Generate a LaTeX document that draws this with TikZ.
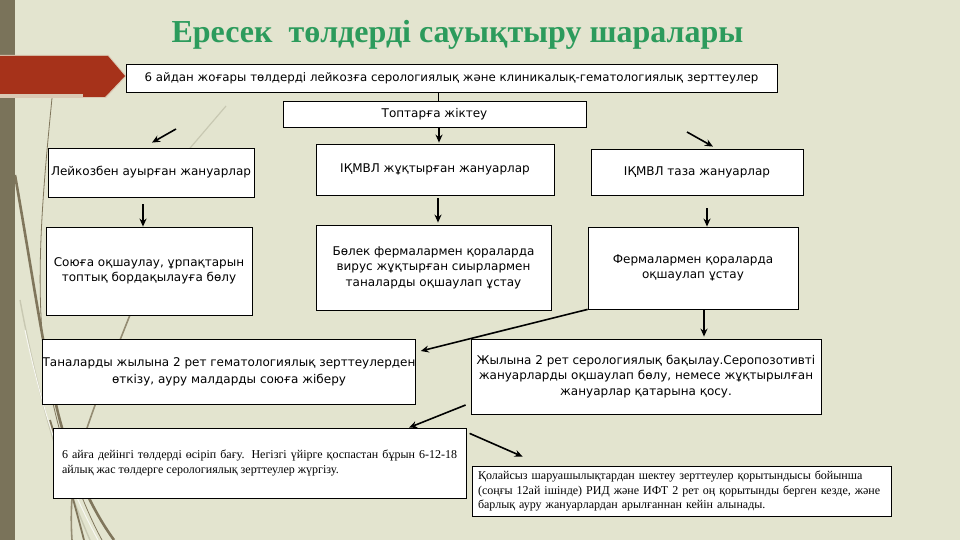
\documentclass[tikz,border=0pt]{standalone}
\usepackage{fontspec}
\setmainfont{Liberation Serif}
\newfontfamily\gfont{DejaVu Sans}
\newfontfamily\tfont{Liberation Serif}
\usetikzlibrary{arrows.meta,calc}
\definecolor{bgc}{RGB}{227,228,207}
\definecolor{bandc}{RGB}{122,115,90}
\definecolor{redc}{RGB}{166,50,26}
\definecolor{titleg}{RGB}{44,155,92}
\definecolor{grassd}{RGB}{128,118,92}
\definecolor{grassl}{RGB}{200,200,178}
\tikzset{
  box/.style={draw=black, line width=0.8pt, fill=white, inner sep=0pt, align=center,
    font=\gfont\fontsize{12}{15.5}\selectfont},
  sbox/.style={draw=black, line width=0.8pt, fill=white, inner sep=0pt,
    font=\tfont\fontsize{12}{14.5}\selectfont},
  arr/.style={-{Stealth[length=8pt,width=7pt]}, line width=1.6pt, black},
  conn/.style={line width=0.8pt, black},
}
\begin{document}
\begin{tikzpicture}[x=1pt,y=-1pt]
\fill[bgc] (0,0) rectangle (960,540);
\useasboundingbox (0,0) rectangle (960,540);
% decorative grass
\draw[grassl, line width=1.2pt] (226,106) -- (150,195);
\draw[grassd, line width=0.8pt] (52,98) .. controls (44,180) and (34,280) .. (45,360) .. controls (55,430) and (80,500) .. (102,540);
\draw[grassd, line width=2.6pt] (15,175) .. controls (30,260) and (40,330) .. (55,400) .. controls (68,460) and (92,510) .. (114,540);
\draw[grassd!80!bgc, line width=1.6pt] (132,310) .. controls (112,360) and (92,410) .. (80,450) .. controls (72,480) and (70,510) .. (72,540);
\draw[grassl, line width=1.4pt] (20,300) .. controls (35,380) and (55,460) .. (90,540);
\draw[white!70!bgc, line width=1pt] (25,330) .. controls (40,400) and (60,470) .. (98,540);
\draw[grassd, line width=1.8pt] (50,420) .. controls (65,470) and (75,505) .. (84,540);
% left band
\fill[bandc] (0,0) rectangle (15,540);
% red arrow shape
\fill[redc!15!bgc] (0,55) -- (108.5,55) -- (126.5,76) -- (106,98) -- (0,98) -- cycle;
\fill[redc] (0,56) -- (108,56) -- (125,76) -- (105,97) -- (83,97) -- (83,94) -- (0,94) -- cycle;
% title
\node[font=\tfont\bfseries\fontsize{32}{38}\selectfont, text=titleg, anchor=base, inner sep=0pt] (title) at (457.5,43) {Ересек\ \ төлдерді сауықтыру шаралары};
% boxes
\node[box, minimum width=651pt, minimum height=28pt, font=\gfont\fontsize{11.8}{15}\selectfont] (b1) at (451.5,78) {6 айдан жоғары төлдерді лейкозға серологиялық және клиникалық-гематологиялық зерттеулер};
\node[box, minimum width=303pt, minimum height=26pt] (b2) at (434.5,114) {Топтарға жіктеу};
\node[box, minimum width=206pt, minimum height=49pt] (l2) at (151,172.5) {Лейкозбен ауырған жануарлар};
\node[box, minimum width=238pt, minimum height=51pt] (m2) at (435,169.5) {ІҚМВЛ жұқтырған жануарлар};
\node[box, minimum width=212pt, minimum height=46pt] (r2) at (697,172) {ІҚМВЛ таза жануарлар};
\node[box, minimum width=206pt, minimum height=88pt] (l3) at (149,271) {Союға оқшаулау, ұрпақтарын\\топтық бордақылауға бөлу};
\node[box, minimum width=235pt, minimum height=85pt] (m3) at (433.5,267.5) {Бөлек фермалармен қораларда\\вирус жұқтырған сиырлармен\\таналарды оқшаулап ұстау};
\node[box, minimum width=210pt, minimum height=82pt] (r3) at (693,268) {Фермалармен қораларда\\оқшаулап ұстау};
\node[box, minimum width=368pt, minimum height=65pt, font=\gfont\fontsize{12}{17}\selectfont] (l4) at (229,371.5) {Таналарды жылына 2 рет гематологиялық зерттеулерден\\өткізу, ауру малдарды союға жіберу};
\node[box, minimum width=350pt, minimum height=75pt] (r4) at (646,376.5) {Жылына 2 рет серологиялық бақылау.Серопозотивті\\жануарларды оқшаулап бөлу, немесе жұқтырылған\\жануарлар қатарына қосу.};
\node[sbox, minimum width=413pt, minimum height=70pt, text width=395pt, align=justify] (l5) at (259.5,463) {6 айға дейінгі төлдерді өсіріп бағу. Негізгі үйірге қоспастан бұрын 6-12-18\linebreak айлық жас төлдерге серологиялық зерттеулер жүргізу.};
\node[sbox, minimum width=419pt, minimum height=50pt, text width=407pt, align=left] (r5) at (681.5,491) {Қолайсыз шаруашылықтардан шектеу зерттеулер қорытындысы бойынша\\(соңғы 12ай ішінде) РИД және ИФТ 2 рет оң қорытынды берген кезде, және\\барлық ауру жануарлардан арылғаннан кейін алынады.};
% connectors
\draw[conn] ([xshift=-13.5pt]b1.south) -- ([xshift=3.5pt]b2.north);
\draw[arr] ([xshift=4.5pt]b2.south) -- ([xshift=4pt,yshift=1pt]m2.north);
\coordinate (sL) at (176,129);
\coordinate (sR) at (687,132);
\draw[arr] (sL) -- ([xshift=1pt,yshift=5pt]l2.north);
\draw[arr] (sR) -- ([xshift=16pt,yshift=2pt]r2.north);
\draw[arr] ([xshift=-8pt,yshift=-7pt]l2.south) -- ([xshift=-6pt]l3.north);
\draw[arr] ([xshift=3pt,yshift=-3pt]m2.south) -- ([xshift=4.5pt,yshift=2pt]m3.north);
\draw[arr] ([xshift=10pt,yshift=-13pt]r2.south) -- ([xshift=14pt]r3.north);
\draw[arr] ([xshift=11pt]r3.south) -- ([xshift=58pt,yshift=2pt]r4.north);
\draw[arr] (r3.south west) -- ([xshift=5pt,yshift=20.5pt]l4.east);
\draw[arr] ([xshift=-5pt,yshift=-28.5pt]r4.west) -- ([xshift=149.5pt]l5.north);
\draw[arr] ([xshift=-1pt,yshift=-19pt]r4.south west) -- ([xshift=51pt,yshift=9pt]r5.north west);
\end{tikzpicture}
\end{document}
